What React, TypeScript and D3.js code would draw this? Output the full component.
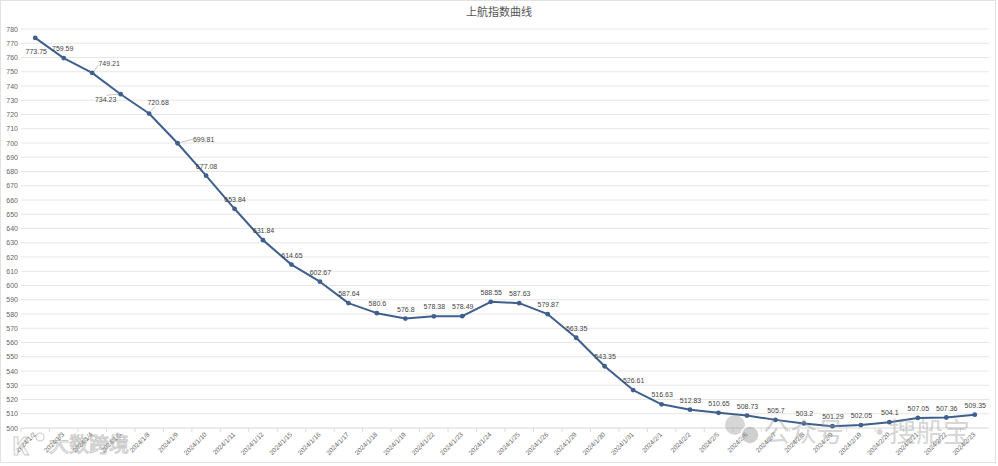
import React from "react";
import * as d3 from "d3";

const title = "上航指数曲线";
const dates = [
  "2024/1/2", "2024/1/3", "2024/1/4", "2024/1/5", "2024/1/8", "2024/1/9", "2024/1/10", "2024/1/11",
  "2024/1/12", "2024/1/15", "2024/1/16", "2024/1/17", "2024/1/18", "2024/1/19", "2024/1/22", "2024/1/23",
  "2024/1/24", "2024/1/25", "2024/1/26", "2024/1/29", "2024/1/30", "2024/1/31", "2024/2/1", "2024/2/2",
  "2024/2/5", "2024/2/6", "2024/2/7", "2024/2/8", "2024/2/9", "2024/2/19", "2024/2/20", "2024/2/21",
  "2024/2/22", "2024/2/23",
];
const values = [
  773.75, 759.59, 749.21, 734.23, 720.68, 699.81, 677.08, 653.84, 631.84, 614.65, 602.67, 587.64,
  580.6, 576.8, 578.38, 578.49, 588.55, 587.63, 579.87, 563.35, 543.35, 526.61, 516.63, 512.83,
  510.65, 508.73, 505.7, 503.2, 501.29, 502.05, 504.1, 507.05, 507.36, 509.35,
];
const yTicks = d3.range(500, 781, 10);

// label placement exceptions (index -> offset of label centre/baseline, with optional leader)
const labelPlacement: Record<number, { dx: number; dy: number; leader?: [number, number, number, number] }> = {
  0: { dx: 1, dy: 16 },
  1: { dx: -1, dy: -7 },
  2: { dx: 17, dy: -7, leader: [2, -2, 6, -8] },
  3: { dx: -15, dy: 8, leader: [-14, 1, -2, 0] },
  4: { dx: 9, dy: -9, leader: [1, -2, 6, -7] },
  5: { dx: 26, dy: -1, leader: [3, -1, 15, -4] },
};

const W = 998;
const H = 466;
const left = 21;
const right = 989;
const yTop = 29;
const yBottom = 428;
const lineColor = "#3f5f8e";
const font = "'Liberation Sans', Arial, sans-serif";
const cjk = "'Noto Sans CJK SC', sans-serif";

export default function App() {
  const x = d3.scaleBand<string>().domain(dates).range([left, right]).paddingInner(0).paddingOuter(0);
  const y = d3.scaleLinear().domain([500, 780]).range([yBottom, yTop]);
  const cx = (d: string) => (x(d) as number) + x.bandwidth() / 2;
  const pts: [number, number][] = values.map((v, i) => [cx(dates[i]), y(v)]);
  const line = d3.line()(pts) as string;

  return (
    <svg width={W} height={H} style={{ position: "absolute", left: 0, top: 0, background: "#fff" }}>
      <rect x={0.5} y={0.5} width={W - 3} height={H - 4} fill="#fff" stroke="#e2e2e2" />
      <text x={499} y={16} textAnchor="middle" fontSize={11} fill="#555" fontFamily={cjk}>
        {title}
      </text>
      {yTicks.map((t) => (
        <g key={t}>
          <line x1={left} x2={right} y1={y(t)} y2={y(t)} stroke={t === 500 ? "#d6d6d6" : "#e6e6e6"} strokeWidth={1} />
          <text x={18} y={y(t) + 2.5} textAnchor="end" fontSize={7} fill="#666" fontFamily={font}>
            {t}
          </text>
        </g>
      ))}
      {dates.map((d, i) => (
        <line key={"tk" + i} x1={x(d) as number} x2={x(d) as number} y1={yBottom} y2={yBottom + 4} stroke="#ddd" />
      ))}
      {dates.map((d) => (
        <text
          key={"xl" + d}
          transform={`translate(${cx(d) + 1},${yBottom + 7}) rotate(-45)`}
          textAnchor="end"
          fontSize={6.5}
          fill="#666"
          fontFamily={font}
        >
          {d}
        </text>
      ))}
      <path d={line} fill="none" stroke={lineColor} strokeWidth={2} strokeLinejoin="round" />
      {pts.map(([px, py], i) => (
        <circle key={"c" + i} cx={px} cy={py} r={2.4} fill={lineColor} />
      ))}
      {pts.map(([px, py], i) => {
        const p = labelPlacement[i] ?? { dx: 0.5, dy: -7 };
        return (
          <g key={"lb" + i}>
            {p.leader && (
              <line
                x1={px + p.leader[0]}
                y1={py + p.leader[1]}
                x2={px + p.leader[2]}
                y2={py + p.leader[3]}
                stroke="#aaa"
                strokeWidth={0.7}
              />
            )}
            <text x={px + p.dx} y={py + p.dy} textAnchor="middle" fontSize={7} fill="#444" fontFamily={font}>
              {values[i]}
            </text>
          </g>
        );
      })}
      <g opacity={0.4} fontFamily={cjk}>
        <circle cx={735} cy={425} r={10} fill="#9a9a9a" />
        <circle cx={750} cy={435} r={9} fill="#8a8a8a" stroke="#fff" strokeWidth={1.5} />
        <text x={763} y={442} fontSize={27} fill="#9a9a9a">公众号</text>
        <text x={866} y={442} fontSize={27} fill="#9a9a9a">·</text>
        <text x={889} y={442} fontSize={27} fill="#9a9a9a">搜船宝</text>
      </g>
      <g opacity={0.5} fontFamily={cjk}>
        <text x={12} y={455} fontSize={24} fill="#fff" stroke="#999" strokeWidth={1} fontWeight="bold">K</text>
        <circle cx={40} cy={437} r={4} fill="none" stroke="#999" strokeWidth={1.2} />
        <text x={49} y={452} fontSize={20} fill="#fff" stroke="#999" strokeWidth={1}>大数跨境</text>
      </g>
    </svg>
  );
}
